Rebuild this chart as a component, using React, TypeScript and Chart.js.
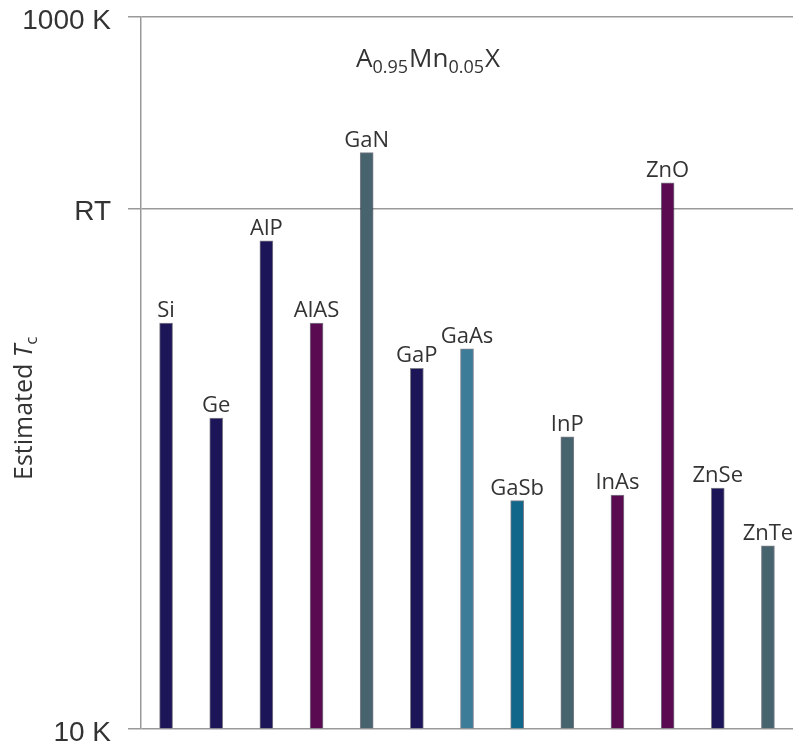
import React, { useEffect, useRef } from "react";
import { Chart, registerables } from "chart.js";

Chart.register(...registerables);

// Semiconductor hosts and their estimated Curie temperatures (K)
const compounds = ["Si", "Ge", "AlP", "AlAS", "GaN", "GaP", "GaAs", "GaSb", "InP", "InAs", "ZnO", "ZnSe", "ZnTe"];
const tcValues = [138, 74.7, 235, 138, 416, 103, 117, 43.8, 66.2, 45.4, 342, 47.5, 32.7];
const barColors = [
  "#1c1557", "#1c1557", "#1c1557", "#5a0a50", "#47636e", "#1c1557", "#3d7c99",
  "#10678a", "#47636e", "#5a0a50", "#5a0a50", "#1c1557", "#47636e",
];

// Temperature reference lines on the log axis
const ROOM_TEMP = 290;
const tickValues = [10, ROOM_TEMP, 1000];
const tickLabels = ["10 K", "RT", "1000 K"];

const SANS = "'Open Sans', 'Noto Sans', sans-serif";

const barLabelPlugin = {
  id: "barLabels",
  afterDatasetsDraw(chart: any) {
    const ctx = chart.ctx;
    const meta = chart.getDatasetMeta(0);
    ctx.save();
    ctx.font = `22px ${SANS}`;
    ctx.fillStyle = "#333";
    ctx.textAlign = "center";
    ctx.textBaseline = "alphabetic";
    meta.data.forEach((bar: any, i: number) => {
      ctx.fillText(compounds[i], bar.x, bar.y - 6);
    });
    ctx.restore();
  },
};

const annotationPlugin = {
  id: "formulaAndAxisTitle",
  afterDraw(chart: any) {
    const ctx = chart.ctx;
    ctx.save();
    ctx.fillStyle = "#333";
    ctx.textBaseline = "alphabetic";
    ctx.textAlign = "left";

    // Formula A0.95Mn0.05X with subscripts
    const parts: [string, boolean][] = [["A", false], ["0.95", true], ["Mn", false], ["0.05", true], ["X", false]];
    let x = 356;
    const base = 67;
    parts.forEach(([t, sub]) => {
      ctx.font = sub ? `18px ${SANS}` : `26px ${SANS}`;
      ctx.fillText(t, x, sub ? base + 6 : base);
      x += ctx.measureText(t).width + (sub ? 1 : 0);
    });

    // Rotated y-axis title: Estimated T_c
    ctx.translate(32, 480);
    ctx.rotate(-Math.PI / 2);
    ctx.font = `25px ${SANS}`;
    const w1 = ctx.measureText("Estimated ").width;
    ctx.fillText("Estimated ", 0, 0);
    ctx.font = `italic 25px ${SANS}`;
    ctx.fillText("T", w1, 0);
    const w2 = ctx.measureText("T").width;
    ctx.font = `17px ${SANS}`;
    ctx.fillText("c", w1 + w2, 5);
    ctx.restore();
  },
};

export default function App() {
  const canvasRef = useRef<HTMLCanvasElement | null>(null);

  useEffect(() => {
    if (!canvasRef.current) return;
    const chart = new Chart(canvasRef.current, {
      type: "bar",
      data: {
        labels: compounds,
        datasets: [
          {
            data: tcValues,
            backgroundColor: barColors,
            borderColor: "rgba(40,40,60,0.6)",
            borderWidth: 1,
            barThickness: 13,
            base: 10,
          },
        ],
      },
      options: {
        animation: false,
        responsive: false,
        maintainAspectRatio: false,
        layout: { padding: { top: 0, bottom: 0, left: 0, right: 0 } },
        plugins: {
          legend: { display: false },
          tooltip: { enabled: false },
          title: { display: false },
        },
        scales: {
          x: {
            display: false,
          },
          y: {
            type: "logarithmic",
            min: 10,
            max: 1000,
            afterBuildTicks(scale: any) {
              scale.ticks = tickValues.map((v) => ({ value: v }));
            },
            afterFit(scale: any) {
              scale.width = 141;
              scale.paddingTop = 17;
              scale.paddingBottom = 17;
            },
            ticks: {
              callback: (value: any) => {
                const idx = tickValues.indexOf(Number(value));
                return idx >= 0 ? tickLabels[idx] : "";
              },
              font: { family: "'Liberation Sans', Arial, sans-serif", size: 28 },
              color: "#333",
              padding: 17,
              labelOffset: 4,
              autoSkip: false,
            },
            grid: {
              color: "#999",
              lineWidth: 1.5,
              drawTicks: true,
              tickLength: 13,
            },
            border: { display: true, color: "#999", width: 1.5 },
          },
        },
      },
      plugins: [barLabelPlugin, annotationPlugin],
    });
    return () => chart.destroy();
  }, []);

  return (
    <div style={{ position: "fixed", left: 0, top: 0, width: 793, height: 746, background: "#fff" }}>
      <canvas ref={canvasRef} width={793} height={746} />
    </div>
  );
}
